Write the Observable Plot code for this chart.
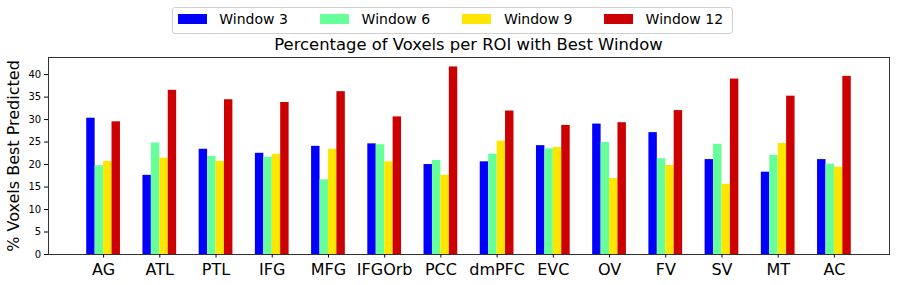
<!DOCTYPE html>
<html>
<head>
<meta charset="utf-8">
<script src="https://cdn.jsdelivr.net/npm/d3@7"></script>
<script src="https://cdn.jsdelivr.net/npm/@observablehq/plot@0.6"></script>
<style>
  html, body { margin: 0; padding: 0; background: white; }
  #wrap { position: relative; width: 897px; height: 285px; font-family: "DejaVu Sans", sans-serif; color: black; }
  #chart { position: absolute; left: 0; top: 0; }
  #legendbox { position: absolute; left: 172px; top: 7px; width: 559px; height: 25px; border: 1px solid #d0d0d0; border-radius: 3px; background: rgba(255,255,255,0.8); }
  .sw { position: absolute; width: 29px; height: 10px; top: 14px; }
  .lt { position: absolute; font-size: 14px; line-height: 14px; top: 12.2px; white-space: nowrap; }
  #title { position: absolute; left: 0; width: 937px; text-align: center; top: 36.5px; font-size: 16.4px; line-height: 16.4px; white-space: nowrap; }
  #ylabel { position: absolute; left: 13.5px; top: 155.5px; font-size: 16px; line-height: 16px; white-space: nowrap; transform: translate(-50%, -50%) rotate(-90deg); }
</style>
</head>
<body>
<div id="wrap">
  <div id="chart"></div>
</div>
<script>
const rois = ["AG", "ATL", "PTL", "IFG", "MFG", "IFGOrb", "PCC", "dmPFC", "EVC", "OV", "FV", "SV", "MT", "AC"];
const windows = ["Window 3", "Window 6", "Window 9", "Window 12"];
const colors = ["#0000ff", "#66ff99", "#ffe600", "#cc0000"];
const window3 = [30.3, 17.6, 23.4, 22.5, 24.05, 24.6, 20.0, 20.6, 24.2, 29.0, 27.1, 21.1, 18.3, 21.1];
const window6 = [19.75, 24.8, 21.8, 21.6, 16.6, 24.4, 20.9, 22.3, 23.5, 24.9, 21.3, 24.5, 22.05, 20.1];
const window9 = [20.7, 21.4, 20.7, 22.3, 23.4, 20.6, 17.6, 25.2, 23.8, 16.9, 19.8, 15.6, 24.7, 19.4];
const window12 = [29.5, 36.5, 34.4, 33.8, 36.2, 30.6, 41.7, 31.9, 28.7, 29.3, 32.0, 39.0, 35.2, 39.6];
const yTicks = [0, 5, 10, 15, 20, 25, 30, 35, 40];
const titleText = "Percentage of Voxels per ROI with Best Window";
const yLabelText = "% Voxels Best Predicted";

const series = [window3, window6, window9, window12];
const barW = 0.15;
const data = [];
rois.forEach((roi, i) => {
  series.forEach((vals, k) => {
    data.push({i, roi, window: windows[k], k, value: vals[i]});
  });
});

const chart = Plot.plot({
  width: 897,
  height: 285,
  marginLeft: 48,
  marginRight: 8,
  marginTop: 57,
  marginBottom: 31,
  style: {fontFamily: "DejaVu Sans, sans-serif", background: "white", color: "black"},
  x: {type: "linear", domain: [-0.98, 13.98]},
  y: {domain: [0, 43.8]},
  color: {domain: windows, range: colors},
  marks: [
    Plot.rect(data, {
      x1: d => d.i + (d.k - 2) * barW,
      x2: d => d.i + (d.k - 1) * barW,
      y1: 0,
      y2: "value",
      fill: "window"
    }),
    Plot.frame({stroke: "#333"}),
    Plot.axisX({ticks: d3.range(rois.length), tickFormat: i => rois[i], fontSize: 16, tickSize: 3.5, tickPadding: 5.5, label: null}),
    Plot.axisY({ticks: yTicks, tickFormat: d => String(d), fontSize: 10, tickSize: 4, tickPadding: 3.3, label: null})
  ]
});
const wrap = document.getElementById("wrap");
document.getElementById("chart").appendChild(chart);

// Legend
const box = document.createElement("div");
box.id = "legendbox";
wrap.appendChild(box);
const swLeft = [177.7, 320, 462.3, 604];
windows.forEach((w, k) => {
  const sw = document.createElement("div");
  sw.className = "sw";
  sw.style.left = swLeft[k] + "px";
  sw.style.background = colors[k];
  wrap.appendChild(sw);
  const t = document.createElement("div");
  t.className = "lt";
  t.style.left = (swLeft[k] + 41.6) + "px";
  t.textContent = w;
  wrap.appendChild(t);
});

// Title
const title = document.createElement("div");
title.id = "title";
title.textContent = titleText;
wrap.appendChild(title);

// Y label
const yl = document.createElement("div");
yl.id = "ylabel";
yl.textContent = yLabelText;
wrap.appendChild(yl);
</script>
</body>
</html>
